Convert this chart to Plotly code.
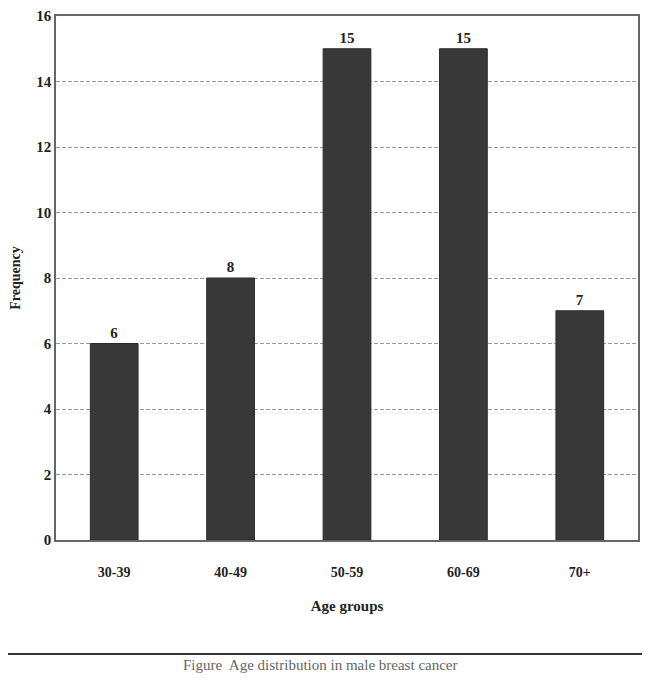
import plotly.graph_objects as go

categories = ["30-39", "40-49", "50-59", "60-69", "70+"]
frequency = [6, 8, 15, 15, 7]
y_ticks = [0, 2, 4, 6, 8, 10, 12, 14, 16]

serif = "Liberation Serif"

fig = go.Figure()
fig.add_trace(go.Bar(
    x=categories,
    y=frequency,
    width=0.41,
    marker=dict(color="#383838", line=dict(color="#2a2a2a", width=1)),
    text=[str(v) for v in frequency],
    textposition="outside",
    textfont=dict(family=serif, size=15, color="#222", weight="bold"),
    cliponaxis=False,
))

fig.update_layout(
    width=642, height=678,
    margin=dict(l=48, r=12, t=8, b=146, autoexpand=False),
    paper_bgcolor="white",
    plot_bgcolor="white",
    showlegend=False,
    font=dict(family=serif, color="#222"),
    xaxis=dict(
        title=dict(text="Age groups", font=dict(family=serif, size=15, color="#222", weight="bold"), standoff=22),
        tickfont=dict(family=serif, size=14, color="#222", weight="bold"),
        ticklabelstandoff=18,
        showline=True, linecolor="#666", linewidth=1.5, mirror=True,
        ticks="", showgrid=False, automargin=False,
    ),
    yaxis=dict(
        title=dict(text="Frequency", font=dict(family=serif, size=14, color="#222", weight="bold"), standoff=14),
        range=[0, 16],
        tickvals=y_ticks,
        tickfont=dict(family=serif, size=15, color="#222", weight="bold"),
        showline=True, linecolor="#666", linewidth=1.5, mirror=True,
        showgrid=True, gridcolor="#999", griddash="4px,2px", gridwidth=1,
        zeroline=False, ticks="", automargin=False,
    ),
    bargap=0.59,
)

fig.add_shape(type="line", xref="paper", yref="paper",
              x0=-0.0825, x1=1.0206, y0=-0.2176, y1=-0.2176,
              line=dict(color="#333", width=2))
fig.add_annotation(text="Figure  Age distribution in male breast cancer",
                   xref="paper", yref="paper", x=0.455, y=-0.2385,
                   showarrow=False, yanchor="middle",
                   font=dict(family=serif, size=15, color="#666"))

fig.write_html("out.html")
